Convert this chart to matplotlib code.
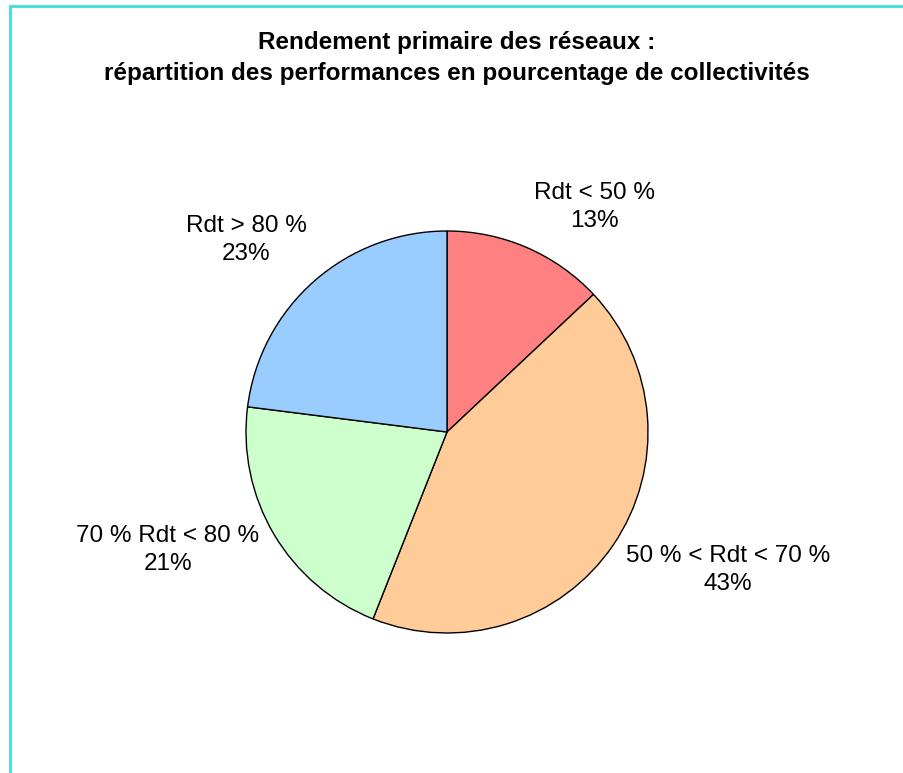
import matplotlib.pyplot as plt
from matplotlib.patches import Rectangle

plt.rcParams['font.family'] = ['Liberation Sans', 'DejaVu Sans']

# performance classes, clockwise from 12 o'clock
classes = ['Rdt < 50 %', '50 % < Rdt < 70 %', '70 % Rdt < 80 %', 'Rdt > 80 %']
shares = [13, 43, 21, 23]
colors = ['#FF8080', '#FFCC99', '#CCFFCC', '#99CCFF']
# label anchor points, in pie-radius units
label_pos = [(0.736, 1.119), (1.398, -0.687), (-1.388, -0.587), (-1.0, 0.955)]

W, H = 904, 773
fig = plt.figure(figsize=(W / 100, H / 100), dpi=100)
ax = fig.add_axes([0, 0, 1, 1])
r_px = 201
cx, cy = 447, 773 - 432

ax.pie(shares, colors=colors, startangle=90, counterclock=False, radius=1,
       wedgeprops=dict(edgecolor='black', linewidth=1.0))
ax.set_xlim(-cx / r_px, (W - cx) / r_px)
ax.set_ylim(-cy / r_px, (H - cy) / r_px)
ax.axis('off')

for name, val, (x, y) in zip(classes, shares, label_pos):
    ax.text(x, y, f'{name}\n{val}%', ha='center', va='center',
            fontsize=17.5, linespacing=1.33)

fig.text(457 / W, 1 - 58 / H,
         'Rendement primaire des réseaux :\n'
         'répartition des performances en pourcentage de collectivités',
         ha='center', va='center', fontsize=17.5, fontweight='bold',
         linespacing=1.45)

# frame around the chart area
fig.patches.append(Rectangle((10 / W, -0.1), 1.2, 1 - 6 / H + 0.1,
                             transform=fig.transFigure, fill=False,
                             edgecolor='#3EDEDE', linewidth=2))

fig.savefig('out.png', dpi=100)
